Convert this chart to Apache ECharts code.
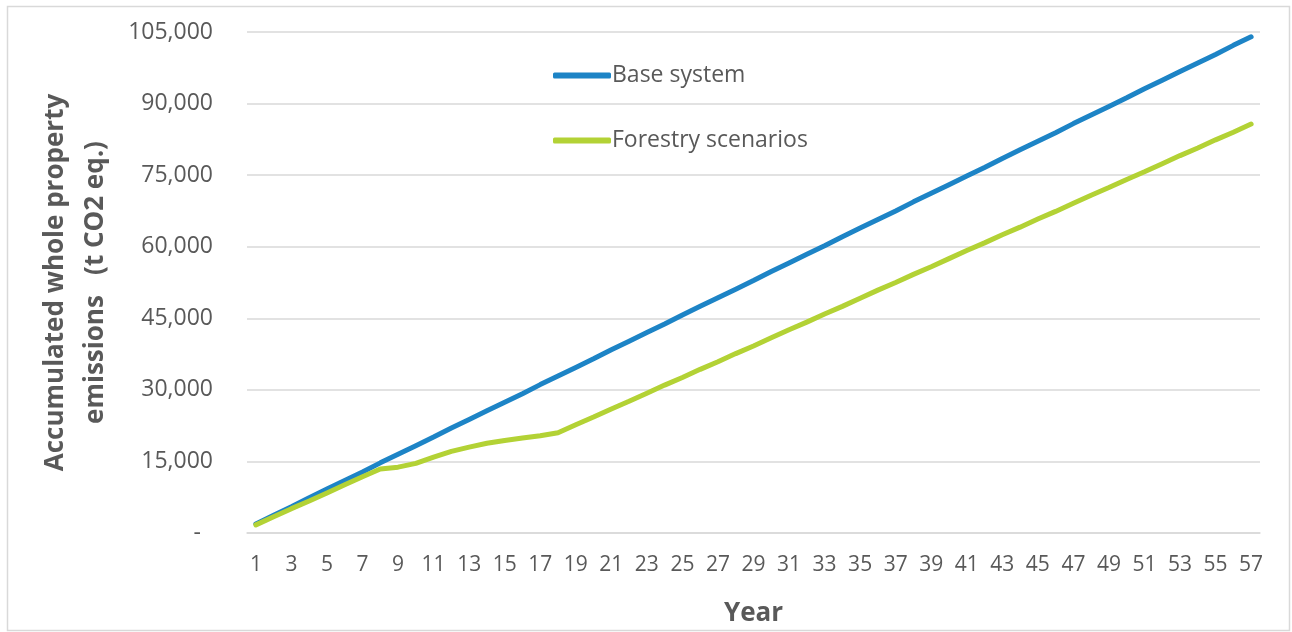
<!DOCTYPE html>
<html>
<head>
<meta charset="utf-8">
<script src="https://cdn.jsdelivr.net/npm/echarts@6/dist/echarts.min.js"></script>
<style>html,body{margin:0;padding:0;background:#fff}#c{width:1292px;height:632px}</style>
</head>
<body>
<div id="c"></div>
<script>
const years = [];
for (let i = 1; i <= 57; i++) years.push(String(i));

const baseSystem = [1900, 3700, 5500, 7400, 9200, 11000, 12800, 14700, 16500, 18300,
  20100, 22000, 23800, 25600, 27400, 29200, 31100, 32900, 34700, 36500,
  38400, 40200, 42000, 43800, 45700, 47500, 49300, 51100, 52900, 54800,
  56600, 58400, 60200, 62100, 63900, 65700, 67500, 69400, 71200, 73000,
  74800, 76600, 78500, 80300, 82100, 83900, 85800, 87600, 89400, 91200,
  93100, 94900, 96700, 98500, 100300, 102200, 104000];

const forestry = [1700, 3400, 5100, 6700, 8400, 10100, 11800, 13400, 13800, 14600,
  15900, 17100, 18000, 18800, 19400, 19900, 20400, 21000, 22700, 24300,
  26000, 27600, 29300, 31000, 32600, 34300, 35900, 37600, 39200, 40900,
  42600, 44200, 45900, 47500, 49200, 50900, 52500, 54200, 55800, 57500,
  59200, 60800, 62500, 64100, 65800, 67400, 69100, 70800, 72400, 74100,
  75700, 77400, 79100, 80700, 82400, 84000, 85700];

const seriesNames = ['Base system', 'Forestry scenarios'];
const yTitle = 'Accumulated whole property\nemissions   (t CO2 eq.)';
const xTitle = 'Year';

const FONT = '"Open Sans", sans-serif';
const chart = echarts.init(document.getElementById('c'), null, {renderer: 'canvas'});
chart.setOption({
  animation: false,
  backgroundColor: '#fff',
  graphic: [{
    type: 'rect', left: 5, top: 4,
    shape: {width: 1282, height: 624},
    style: {fill: 'none', stroke: '#d9d9d9', lineWidth: 1.5},
    silent: true
  }],
  grid: {left: 247, right: 32, top: 32, bottom: 99, containLabel: false, outerBoundsMode: 'none'},
  legend: {
    orient: 'vertical', left: 548, top: 59,
    icon: 'roundRect', itemWidth: 58, itemHeight: 6, itemGap: 42,
    textStyle: {fontFamily: FONT, fontSize: 23, color: '#595959', padding: [0, 0, 0, -4]},
    data: seriesNames
  },
  xAxis: {
    type: 'category', data: years, boundaryGap: true,
    axisLine: {show: true, lineStyle: {color: '#d9d9d9', width: 1.5}},
    axisTick: {show: false},
    axisLabel: {interval: 1, fontFamily: FONT, fontSize: 21, color: '#595959', margin: 22},
    name: xTitle, nameLocation: 'middle', nameGap: 68,
    nameTextStyle: {fontFamily: FONT, fontSize: 26, fontWeight: 'bold', color: '#595959'}
  },
  yAxis: {
    type: 'value', min: 0, max: 105000, interval: 15000,
    axisLine: {show: false}, axisTick: {show: false},
    splitLine: {lineStyle: {color: '#d9d9d9', width: 1.5}},
    axisLabel: {
      fontFamily: FONT, fontSize: 23, color: '#595959', margin: 34,
      formatter: v => v === 0 ? '{d|-}' : v.toLocaleString('en-US'),
      rich: {d: {fontFamily: FONT, fontSize: 23, color: '#595959', padding: [0, 12, 0, 0]}}
    },
    name: yTitle, nameLocation: 'middle', nameGap: 131, nameRotate: 90,
    nameTextStyle: {fontFamily: FONT, fontSize: 26, fontWeight: 'bold', color: '#595959', lineHeight: 40}
  },
  series: [
    {name: seriesNames[0], type: 'line', data: baseSystem, showSymbol: false, symbol: 'none',
     lineStyle: {color: '#1d84c6', width: 5, cap: 'round'}, itemStyle: {color: '#1d84c6'}},
    {name: seriesNames[1], type: 'line', data: forestry, showSymbol: false, symbol: 'none',
     lineStyle: {color: '#b3d235', width: 5, cap: 'round'}, itemStyle: {color: '#b3d235'}}
  ]
});
</script>
</body>
</html>
